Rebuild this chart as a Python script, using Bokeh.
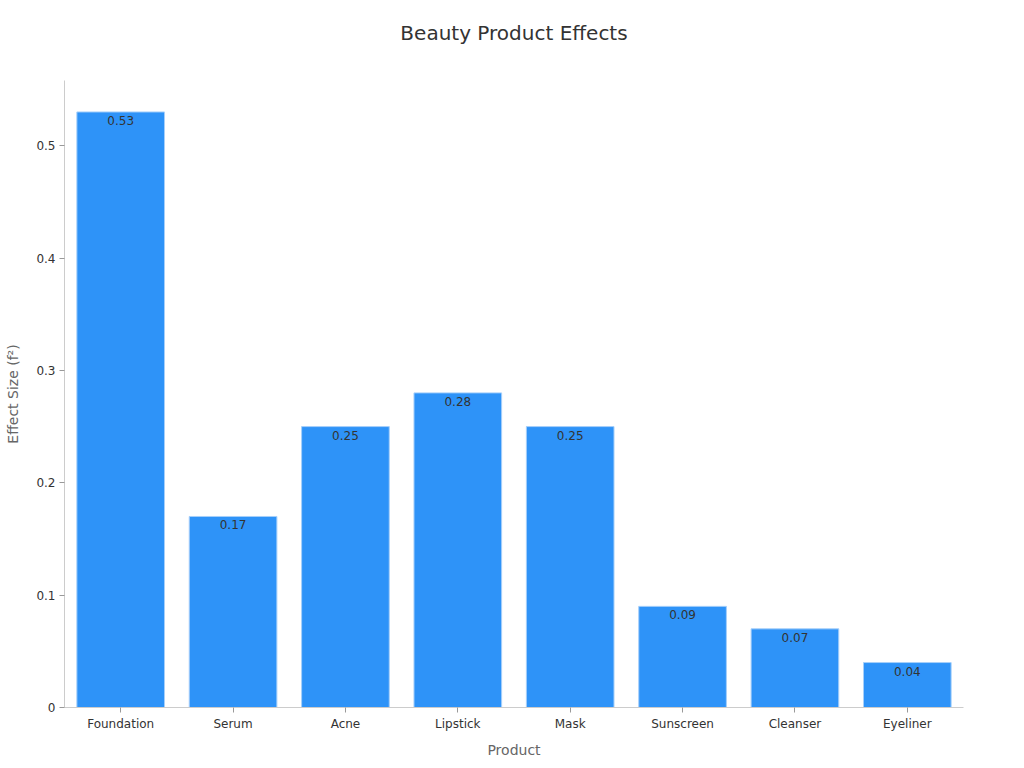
from bokeh.plotting import figure
from bokeh.models import ColumnDataSource, Range1d, FixedTicker, LabelSet, Title
from bokeh.embed import file_html
from bokeh.resources import INLINE
from bokeh.core.properties import value

products = ["Foundation", "Serum", "Acne", "Lipstick", "Mask", "Sunscreen", "Cleanser", "Eyeliner"]
effects = [0.53, 0.17, 0.25, 0.28, 0.25, 0.09, 0.07, 0.04]
labels = [f"{v:.2f}" for v in effects]
y_ticks = [0, 0.1, 0.2, 0.3, 0.4, 0.5]

FONT = "DejaVu Sans"

src = ColumnDataSource(dict(x=products, y=effects, label=labels))

p = figure(x_range=products, y_range=Range1d(0, 0.558), width=1016, height=760,
           output_backend="svg", toolbar_location=None, title=None,
           min_border_left=64, min_border_right=53, min_border_top=80, min_border_bottom=52)

p.vbar(x="x", top="y", width=0.78, source=src, fill_color="#2E93F8",
       line_color="#A6CFFA", line_width=1)

p.add_layout(LabelSet(x="x", y="y", text="label", source=src, text_align="center",
                      text_baseline="top", y_offset=-4, text_font=value(FONT),
                      text_font_size="12px", text_color="#333333"))

spacer = Title(text=" ", text_font=FONT, text_font_size="20px", standoff=5)
title = Title(text="Beauty Product Effects", align="center", text_font=FONT,
              text_font_size="20px", text_font_style="normal", text_color="#333333",
              standoff=10)
p.add_layout(spacer, "above")
p.add_layout(title, "above")

p.xgrid.visible = False
p.ygrid.visible = False
p.outline_line_color = None

for ax in (p.xaxis[0], p.yaxis[0]):
    ax.axis_line_color = "#cccccc"
    ax.major_tick_line_color = "#999999"
    ax.minor_tick_line_color = None
    ax.major_tick_in = 0
    ax.major_tick_out = 5
    ax.major_label_text_font = FONT
    ax.major_label_text_font_size = "12px"
    ax.major_label_text_color = "#333333"
    ax.axis_label_text_font = FONT
    ax.axis_label_text_font_size = "14px"
    ax.axis_label_text_font_style = "normal"
    ax.axis_label_text_color = "#666666"

p.xaxis.axis_label = "Product"
p.xaxis.axis_label_standoff = 8
p.xaxis.major_label_standoff = 4
p.x_range.range_padding = 0

p.yaxis.axis_label = "Effect Size (f²)"
p.yaxis.ticker = FixedTicker(ticks=y_ticks)
p.yaxis.major_label_overrides = {0: "0"}
p.yaxis.axis_label_standoff = 12
p.yaxis.major_label_standoff = 4

open("out.html", "w").write(file_html(p, INLINE))
